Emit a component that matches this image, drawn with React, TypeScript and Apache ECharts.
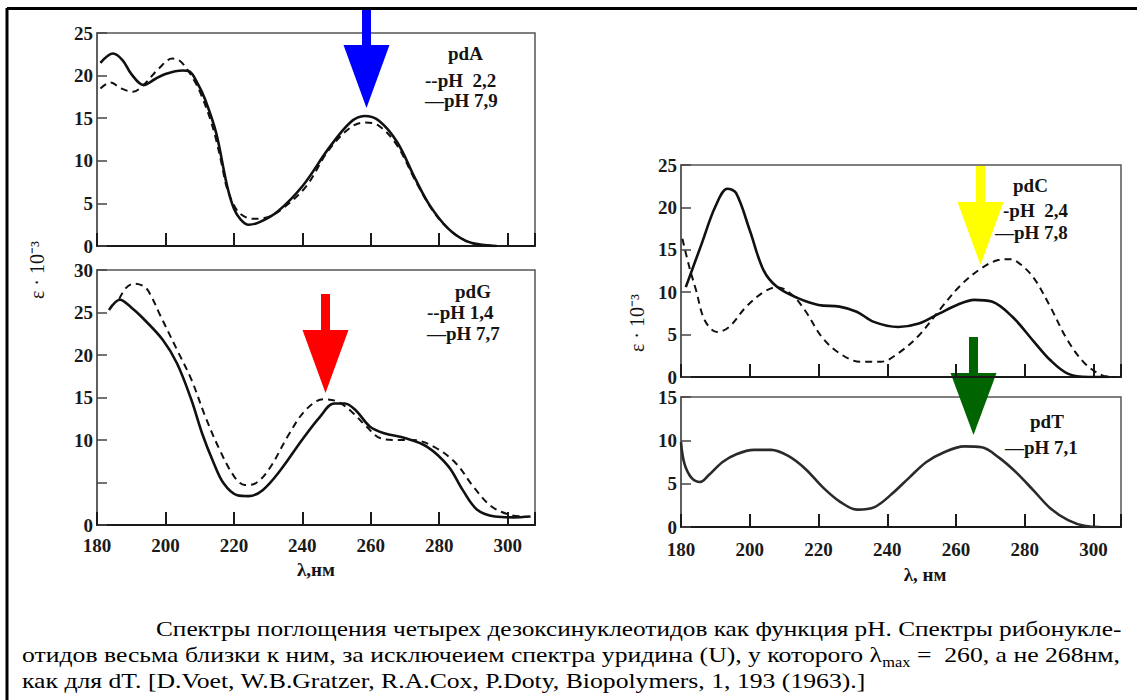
import React, { useEffect, useRef } from "react";
import * as echarts from "echarts";

// ---- data (λ in nm, ε·10^-3) ----
const pdA_pH22: number[][] = [[181,18.5],[184,19.2],[187,18.5],[190.5,18.1],[193.6,18.9],[198,20.8],[202,22.0],[204,21.8],[206.4,20.7],[209,19.0],[211,17.2],[213,15.0],[214.8,12.5],[216.5,9.5],[218,6.8],[221.2,4.05],[225.4,3.2],[229.6,3.35],[234.9,4.6],[241.3,7.1],[247.6,11.2],[254,13.9],[258.2,14.5],[262.4,14.1],[267.7,11.8],[273,7.7],[278.3,4.05],[283.6,1.7],[288.9,0.4],[294.2,0.1],[297,0]];
const pdA_pH79: number[][] = [[181,21.5],[184.7,22.6],[187.5,21.8],[190,20.2],[193.6,18.9],[197,19.6],[200,20.2],[205,20.6],[207,20.5],[209.5,19.0],[211.6,17.2],[214.8,13.3],[218,7.1],[220,4.4],[222,3.1],[224.3,2.5],[227.5,2.8],[232.8,4.05],[240.2,7.1],[247.6,11.4],[254,14.5],[258.2,15.25],[262.4,14.7],[267.7,12.2],[273,7.9],[277.2,4.8],[282.5,2.1],[287.8,0.6],[293,0.1],[296.8,0]];
const pdG_pH14: number[][] = [[186.5,26.6],[188.5,27.9],[190.8,28.4],[194,28.0],[196,26.8],[198.2,24.9],[203.4,20.6],[207.6,17.1],[211.7,12.7],[215.9,8.8],[220.1,5.7],[223.2,4.7],[226.3,4.9],[230.5,6.7],[235.7,10.4],[240.9,13.5],[246.2,14.8],[250.4,14.5],[254.5,13.3],[258.7,11.6],[262.9,10.2],[268.1,10.0],[272.2,10.0],[278.5,9.2],[284.8,7.3],[290,4.5],[295.2,2.2],[300.6,1.2],[304.7,1.0]];
const pdG_pH77: number[][] = [[183.5,25.3],[186.7,26.5],[190,25.6],[193,24.5],[199.2,21.8],[203.4,19.0],[207.6,14.7],[210.7,10.8],[213.8,7.6],[217,4.9],[221,3.5],[224.3,3.4],[228.4,4.1],[233.7,6.5],[239.9,10.0],[245.1,12.7],[249.3,14.3],[252.4,14.3],[255.6,13.5],[259.7,11.6],[263.9,10.8],[270.2,10.2],[276.5,9.2],[282.7,6.9],[286.9,4.1],[291.1,1.8],[296.3,1.0],[301.5,0.9],[306.7,1.0]];
const pdC_pH24: number[][] = [[180.4,16.3],[182.4,13.0],[184.4,10.2],[186.9,6.7],[190.5,5.3],[194,5.9],[199,8.3],[204,10.0],[208,10.6],[212,9.8],[216,7.9],[221,4.7],[226.1,2.8],[232.1,1.8],[238.2,1.8],[243.2,2.8],[249.2,4.9],[255.2,7.9],[261.3,10.8],[267.3,12.8],[272.3,13.8],[275,13.9],[277.4,13.7],[282.4,11.8],[287.4,8.3],[292.5,4.3],[297.5,1.6],[302.5,0.2],[306,0]];
const pdC_pH78: number[][] = [[181.4,10.6],[186,15.7],[190,20.1],[193.5,22.2],[196,21.7],[200,17.3],[204,12.6],[208,10.6],[214,9.3],[220,8.5],[226.1,8.3],[231.1,7.7],[236.1,6.5],[243.2,5.9],[249.2,6.3],[255.2,7.5],[260.3,8.5],[265.3,9.1],[270.4,8.9],[276.4,7.1],[282.4,4.3],[287.4,2.0],[292.5,0.4],[298.5,0],[304.5,0]];
const pdT_pH71: number[][] = [[180,9.8],[181,7.3],[183,5.7],[185.6,5.2],[188.1,6.0],[192.1,7.5],[196.1,8.4],[201.2,8.9],[206.2,8.9],[211.2,8.2],[216.2,6.7],[221.2,4.6],[226.3,2.9],[231.3,2.0],[236.3,2.3],[241.3,3.8],[246.4,5.7],[251.4,7.5],[256.4,8.6],[262.4,9.3],[267.5,9.2],[272.5,8.0],[277.5,6.3],[282.6,4.2],[287.6,2.1],[292.6,0.8],[297.7,0.1],[301.7,0]];

const yMaxes = [25, 30, 25, 15];
const xTickLabels = [180, 200, 220, 240, 260, 280, 300];

const legendA = ["pdA", "--pH  2,2", "—pH 7,9"];
const legendG = ["pdG", "--pH 1,4", "—pH 7,7"];
const legendC = ["pdC", "-pH  2,4", "—pH 7,8"];
const legendT = ["pdT", "—pH 7,1"];

const yTitle = "ε · 10⁻³";
const xTitleG = "λ,нм";
const xTitleT = "λ, нм";

const cap1 = "Спектры поглощения четырех дезоксинуклеотидов как функция pH. Спектры рибонукле-";
const cap2a = "отидов весьма близки к ним, за исключеием спектра уридина (U), у которого λ";
const cap2b = "max";
const cap2c = " =  260, а не 268нм,";
const cap3 = "как для dT. [D.Voet, W.B.Gratzer, R.A.Cox, P.Doty, Biopolymers, 1, 193 (1963).]";

const FAMILY = "Liberation Serif";

function measure(text: string, size: number, weight = "normal"): number {
  const c = document.createElement("canvas").getContext("2d")!;
  c.font = `${weight} ${size}px "${FAMILY}"`;
  return c.measureText(text).width;
}

function arrow(cx: number, shaftTop: number, headTop: number, tip: number, color: string) {
  return {
    type: "group",
    z: 100,
    children: [
      { type: "rect", shape: { x: cx - 4.5, y: shaftTop, width: 9, height: headTop - shaftTop + 1 }, style: { fill: color } },
      { type: "polygon", shape: { points: [[cx - 23, headTop], [cx + 23, headTop], [cx, tip]] }, style: { fill: color } },
    ],
  };
}

function txt(x: number, y: number, text: string, size: number, weight: string, extra: any = {}) {
  const align = extra.align || "left";
  const fill = extra.fill || "#141414";
  const { align: _a, fill: _f, ...rest } = extra;
  return {
    type: "text",
    x, y, z: 50,
    ...rest,
    style: {
      text, fontFamily: FAMILY, fontSize: size, fontWeight: weight, fill,
      textAlign: align, align, textVerticalAlign: "middle", verticalAlign: "middle",
    },
  };
}

export default function App() {
  const ref = useRef<HTMLDivElement>(null);
  useEffect(() => {
    if (!ref.current) return;
    const chart = echarts.init(ref.current, null, { renderer: "svg" });

    const grids = [
      { left: 97, top: 33, width: 438, height: 213 },
      { left: 97, top: 270, width: 438, height: 255 },
      { left: 681, top: 165, width: 440, height: 212 },
      { left: 681, top: 397, width: 440, height: 130 },
    ];
    const showX = [false, true, false, true];

    const xAxes = grids.map((_, i) => ({
      type: "value", gridIndex: i, min: 180, max: 308, interval: 20,
      splitLine: { show: false },
      axisLine: { show: true, lineStyle: { color: "#1a1a1a", width: 2 } },
      axisTick: { show: true, inside: true, length: 13, lineStyle: { color: "#1a1a1a", width: 2 } },
      axisLabel: {
        show: showX[i], margin: i === 1 ? 11 : 13,
        fontFamily: FAMILY, fontWeight: "bold", fontSize: 19, color: "#1a1a1a",
        formatter: (v: number) => (xTickLabels.indexOf(v) >= 0 ? String(v) : ""),
      },
    }));
    const yAxes = grids.map((_, i) => ({
      type: "value", gridIndex: i, min: 0, max: yMaxes[i], interval: 5,
      splitLine: { show: false },
      axisLine: { show: true, lineStyle: { color: "#555", width: 1.5 } },
      axisTick: { show: true, inside: true, length: 10, lineStyle: { color: "#444", width: 1.5 } },
      axisLabel: {
        margin: 4, fontFamily: FAMILY, fontWeight: "bold", fontSize: 19, color: "#1a1a1a",
        formatter: (v: number) => (i === 1 && v === 5 ? "" : String(v)),
      },
    }));

    const line = (data: number[][], idx: number, dashed: boolean, color = "#111") => ({
      type: "line", xAxisIndex: idx, yAxisIndex: idx, data, smooth: 0.35, showSymbol: false, symbol: "none",
      lineStyle: { color, width: dashed ? 2 : 2.6, type: dashed ? [7, 5] : "solid" },
    });

    // caption layout (condensed serif, fitted to the reference's line widths)
    const CS = 22, SS = 14;
    const w1 = measure(cap1, CS);
    const s1 = (1122 - 156) / w1;
    const wa = measure(cap2a, CS), wb = measure(cap2b, SS), wc = measure(cap2c, CS);
    const s2 = (1120 - 22) / (wa + wb + wc);
    const capOpt = { scaleX: 0, fill: "#000" };

    const LS = 19;
    const graphic: any[] = [
      { type: "line", shape: { x1: 7, y1: 8.5, x2: 1137, y2: 8.5 }, style: { stroke: "#000", lineWidth: 3 }, z: 120 },
      { type: "line", shape: { x1: 7, y1: 8, x2: 7, y2: 700 }, style: { stroke: "#000", lineWidth: 3 }, z: 120 },
      // legends
      txt(448, 53, legendA[0], LS, "bold"), txt(425, 80, legendA[1], LS, "bold"), txt(425, 100, legendA[2], LS, "bold"),
      txt(455, 291, legendG[0], LS, "bold"), txt(427, 312, legendG[1], LS, "bold"), txt(427, 333, legendG[2], LS, "bold"),
      txt(1013, 185, legendC[0], LS, "bold"), txt(1003, 210, legendC[1], LS, "bold"), txt(995, 232, legendC[2], LS, "bold"),
      txt(1030, 421, legendT[0], LS, "bold"), txt(1005, 447, legendT[1], LS, "bold"),
      // axis titles
      txt(37, 270, yTitle, 20, "normal", { rotation: Math.PI / 2, align: "center" }),
      txt(637, 323, yTitle, 20, "normal", { rotation: Math.PI / 2, align: "center" }),
      txt(316, 569, xTitleG, 19, "bold", { align: "center" }),
      txt(925, 574, xTitleT, 19, "bold", { align: "center" }),
      // caption
      txt(156, 629, cap1, CS, "normal", { ...capOpt, scaleX: s1 }),
      txt(22, 655, cap2a, CS, "normal", { ...capOpt, scaleX: s2 }),
      txt(22 + wa * s2, 662, cap2b, SS, "normal", { ...capOpt, scaleX: s2 }),
      txt(22 + (wa + wb) * s2, 655, cap2c, CS, "normal", { ...capOpt, scaleX: s2 }),
      txt(22, 681, cap3, CS, "normal", { ...capOpt, scaleX: s2 }),
      // arrows
      arrow(366.5, 8, 45, 108, "#0000ff"),
      arrow(325.5, 294, 330, 393, "#ff0000"),
      arrow(980.5, 166, 202, 265, "#ffff00"),
      arrow(973.5, 337, 373, 435, "#006400"),
    ];

    chart.setOption({
      animation: false,
      backgroundColor: "#ffffff",
      grid: grids.map((g) => ({ ...g, show: true, borderColor: "#555", borderWidth: 1.5, backgroundColor: "transparent" })),
      xAxis: xAxes,
      yAxis: yAxes,
      series: [
        line(pdA_pH22, 0, true), line(pdA_pH79, 0, false),
        line(pdG_pH14, 1, true), line(pdG_pH77, 1, false),
        line(pdC_pH24, 2, true), line(pdC_pH78, 2, false),
        line(pdT_pH71, 3, false, "#2a2a2a"),
      ],
      graphic,
    });
    return () => chart.dispose();
  }, []);
  return (
    <div ref={ref} style={{ position: "absolute", left: 0, top: 0, width: 1137, height: 700, background: "#fff" }} />
  );
}
